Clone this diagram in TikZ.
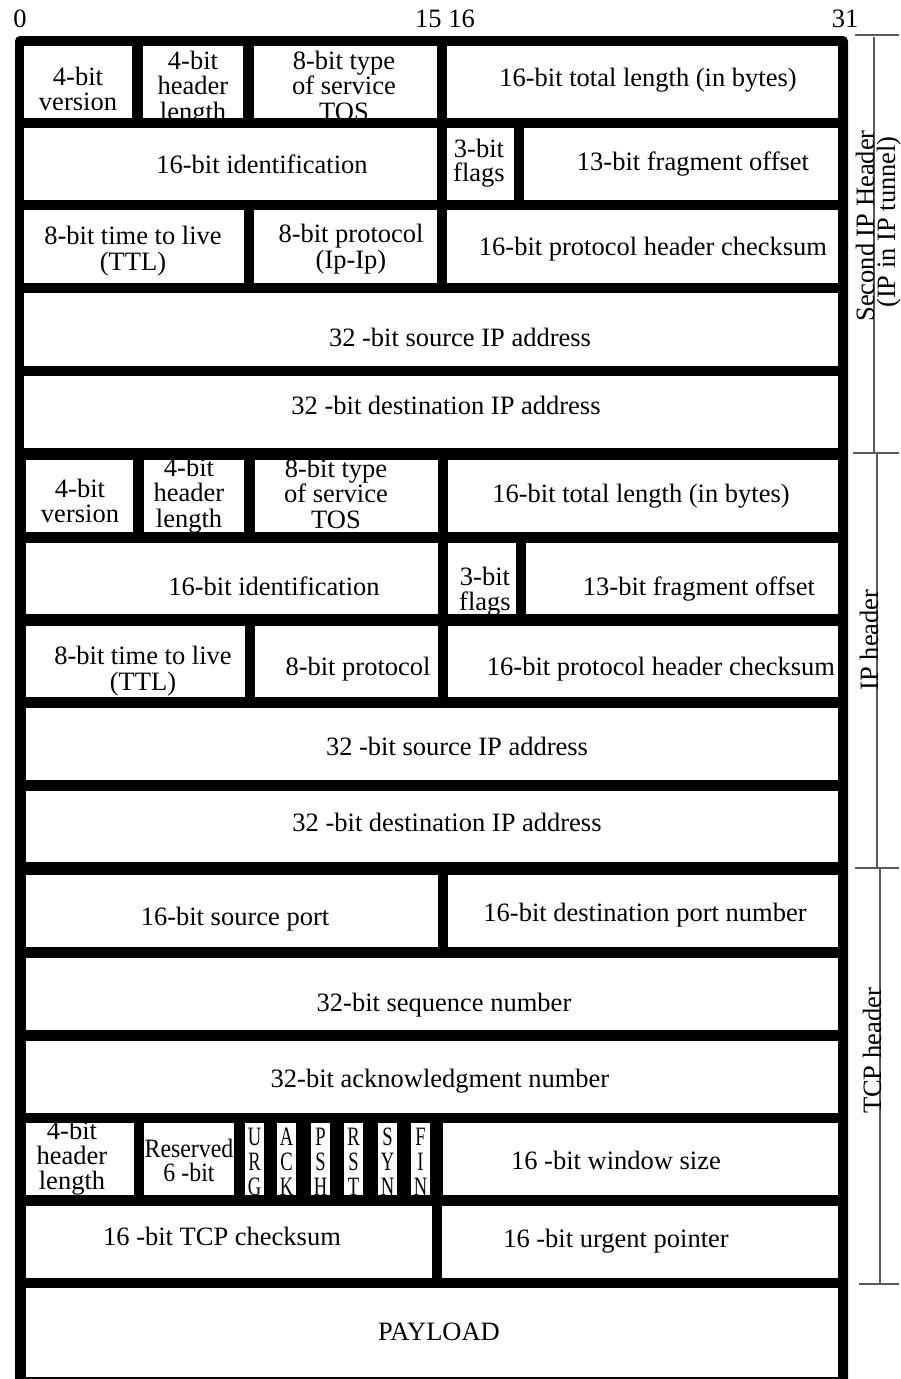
\documentclass[tikz,border=0pt]{standalone}
\usepackage{fontspec}
\setmainfont{Liberation Serif}
\newfontfamily\flagfont{Liberation Serif}[FakeStretch=0.7]
\newfontfamily\narrowfont{Liberation Serif}[FakeStretch=0.9]

% one white field of the packet layout
\newcommand\fieldbox[4]{\fill[cell] (#1,#2) rectangle (#3,#4);}

\begin{document}
\begin{tikzpicture}[x=1pt,y=-1pt,
  frame/.style={fill=black},
  cell/.style={fill=white},
  lbl/.style={font=\fontsize{26.5}{30}\selectfont, inner sep=0pt, anchor=base},
  flag/.style={lbl, font=\flagfont\fontsize{26.5}{30}\selectfont},
  resv/.style={lbl, font=\narrowfont\fontsize{26.5}{30}\selectfont},
  side/.style={lbl, rotate=90},
  guide/.style={draw=black!65, line width=1.1pt}]

\useasboundingbox (0,0) rectangle (901,1379);
\fill[white] (0,0) rectangle (901,1379);

% ---- black frame behind all fields
\fill[frame, rounded corners=5pt] (15,36) rectangle (848,1390);

% ---- outer IP header (IP in IP)
\fieldbox{24}{46}{132}{118}
\fieldbox{143}{46}{243}{118}
\fieldbox{254}{46}{437}{118}
\fieldbox{447}{46}{838}{118}
\fieldbox{24}{128}{437}{200}
\fieldbox{447}{128}{514}{200}
\fieldbox{524}{128}{838}{200}
\fieldbox{24}{210}{244}{283}
\fieldbox{254}{210}{437}{283}
\fieldbox{447}{210}{838}{283}
\fieldbox{24}{293}{838}{366}
\fieldbox{24}{376}{838}{448}

% ---- inner IP header
\fieldbox{26}{460}{133}{532}
\fieldbox{144}{460}{244}{532}
\fieldbox{255}{460}{438}{532}
\fieldbox{448}{460}{838}{532}
\fieldbox{26}{543}{438}{614}
\fieldbox{448}{543}{516}{614}
\fieldbox{526}{543}{838}{614}
\fieldbox{26}{626}{245}{697}
\fieldbox{255}{626}{438}{697}
\fieldbox{448}{626}{838}{697}
\fieldbox{26}{708}{838}{780}
\fieldbox{26}{791}{838}{862}

% ---- TCP header
\fieldbox{26}{875}{438}{947}
\fieldbox{448}{875}{838}{947}
\fieldbox{26}{958}{838}{1030}
\fieldbox{26}{1041}{838}{1113}
\fieldbox{26}{1123}{134}{1195}
\fieldbox{144}{1123}{234}{1195}
\fieldbox{245}{1123}{264}{1195}
\fieldbox{277}{1123}{296}{1195}
\fieldbox{311}{1123}{330}{1195}
\fieldbox{344}{1123}{363}{1195}
\fieldbox{378}{1123}{397}{1195}
\fieldbox{411}{1123}{430}{1195}
\fieldbox{443}{1123}{838}{1195}
\fieldbox{26}{1206}{432}{1278}
\fieldbox{442}{1206}{838}{1278}
\fieldbox{26}{1288}{838}{1377}

% ---- bit ruler
\node[lbl] (bit0)  at (20,27)  {0};
\node[lbl] (bit15) at (445,27) {15 16};
\node[lbl] (bit31) at (845,27) {31};

% ---- outer IP header labels
\node[lbl] (a-ver1) at (78,85)  {4-bit};
\node[lbl] (a-ver2) at (78,110) {version};
\node[lbl] (a-hl1)  at (193,69)   {4-bit};
\node[lbl] (a-hl2)  at (193,94.5) {header};
\node[lbl] (a-hl3)  at (193,120)  {length};
\node[lbl] (a-tos1) at (344,69)   {8-bit type};
\node[lbl] (a-tos2) at (344,94.5) {of service};
\node[lbl] (a-tos3) at (344,120)  {TOS};
\node[lbl] (a-len)  at (648,86)  {16-bit total length (in bytes)};
\node[lbl] (a-id)   at (262,173) {16-bit identification};
\node[lbl] (a-fl1)  at (479,157) {3-bit};
\node[lbl] (a-fl2)  at (479,181) {flags};
\node[lbl] (a-off)  at (693,170) {13-bit fragment offset};
\node[lbl] (a-ttl1) at (133,244) {8-bit time to live};
\node[lbl] (a-ttl2) at (133,270) {(TTL)};
\node[lbl] (a-pr1)  at (351,242) {8-bit protocol};
\node[lbl] (a-pr2)  at (351,268) {(Ip-Ip)};
\node[lbl] (a-sum)  at (653,255) {16-bit protocol header checksum};
\node[lbl] (a-src)  at (460,346) {32 -bit source IP address};
\node[lbl] (a-dst)  at (446,414) {32 -bit destination IP address};

% ---- inner IP header labels
\node[lbl] (b-ver1) at (80,497) {4-bit};
\node[lbl] (b-ver2) at (80,522) {version};
\node[lbl] (b-hl1)  at (189,476)   {4-bit};
\node[lbl] (b-hl2)  at (189,501.5) {header};
\node[lbl] (b-hl3)  at (189,527)   {length};
\node[lbl] (b-tos1) at (336,477)   {8-bit type};
\node[lbl] (b-tos2) at (336,502.5) {of service};
\node[lbl] (b-tos3) at (336,528)   {TOS};
\node[lbl] (b-len)  at (641,502) {16-bit total length (in bytes)};
\node[lbl] (b-id)   at (274,595) {16-bit identification};
\node[lbl] (b-fl1)  at (485,585) {3-bit};
\node[lbl] (b-fl2)  at (485,610) {flags};
\node[lbl] (b-off)  at (699,595) {13-bit fragment offset};
\node[lbl] (b-ttl1) at (143,664) {8-bit time to live};
\node[lbl] (b-ttl2) at (143,690) {(TTL)};
\node[lbl] (b-pr)   at (358,675) {8-bit protocol};
\node[lbl] (b-sum)  at (661,675) {16-bit protocol header checksum};
\node[lbl] (b-src)  at (457,755) {32 -bit source IP address};
\node[lbl] (b-dst)  at (447,831) {32 -bit destination IP address};

% ---- TCP header labels
\node[lbl] (c-sp)   at (235,925)  {16-bit source port};
\node[lbl] (c-dp)   at (645,921)  {16-bit destination port number};
\node[lbl] (c-seq)  at (444,1011) {32-bit sequence number};
\node[lbl] (c-ack)  at (440,1087) {32-bit acknowledgment number};
\node[lbl] (c-hl1)  at (72,1139)  {4-bit};
\node[lbl] (c-hl2)  at (72,1164)  {header};
\node[lbl] (c-hl3)  at (72,1189)  {length};
\node[resv] (c-rs1) at (189,1157) {Reserved};
\node[resv] (c-rs2) at (189,1181) {6 -bit};
\foreach \col/\x/\ltrA/\ltrB/\ltrC in
    {urg/254.5/U/R/G, ack/286.5/A/C/K, psh/320.5/P/S/H,
     rst/353.5/R/S/T, syn/387.5/S/Y/N, fin/420.5/F/I/N}{
  \node[flag] (f-\col-1) at (\x,1145) {\ltrA};
  \node[flag] (f-\col-2) at (\x,1170) {\ltrB};
  \node[flag] (f-\col-3) at (\x,1195) {\ltrC};
}
\node[lbl] (c-win)  at (616,1169) {16 -bit window size};
\node[lbl] (c-cks)  at (222,1245) {16 -bit TCP checksum};
\node[lbl] (c-urg)  at (616,1247) {16 -bit urgent pointer};
\node[lbl] (c-pay)  at (439,1340) {PAYLOAD};

% ---- section brackets on the right
\draw[guide] (855,35) -- (899,35);
\draw[guide] (853,453) -- (899,453);
\draw[guide] (855,868) -- (899,868);
\draw[guide] (859,1284) -- (899,1284);
\draw[guide] (874,37) -- (874,453);
\draw[guide] (877,453) -- (877,868);
\draw[guide] (880,868) -- (880,1283);

\node[side] (s-outer1) at (874,226)  {Second IP Header};
\node[side] (s-outer2) at (895,222)  {(IP in IP tunnel)};
\node[side] (s-ip)     at (878,640)  {IP header};
\node[side] (s-tcp)    at (881,1051) {TCP header};

\end{tikzpicture}
\end{document}
